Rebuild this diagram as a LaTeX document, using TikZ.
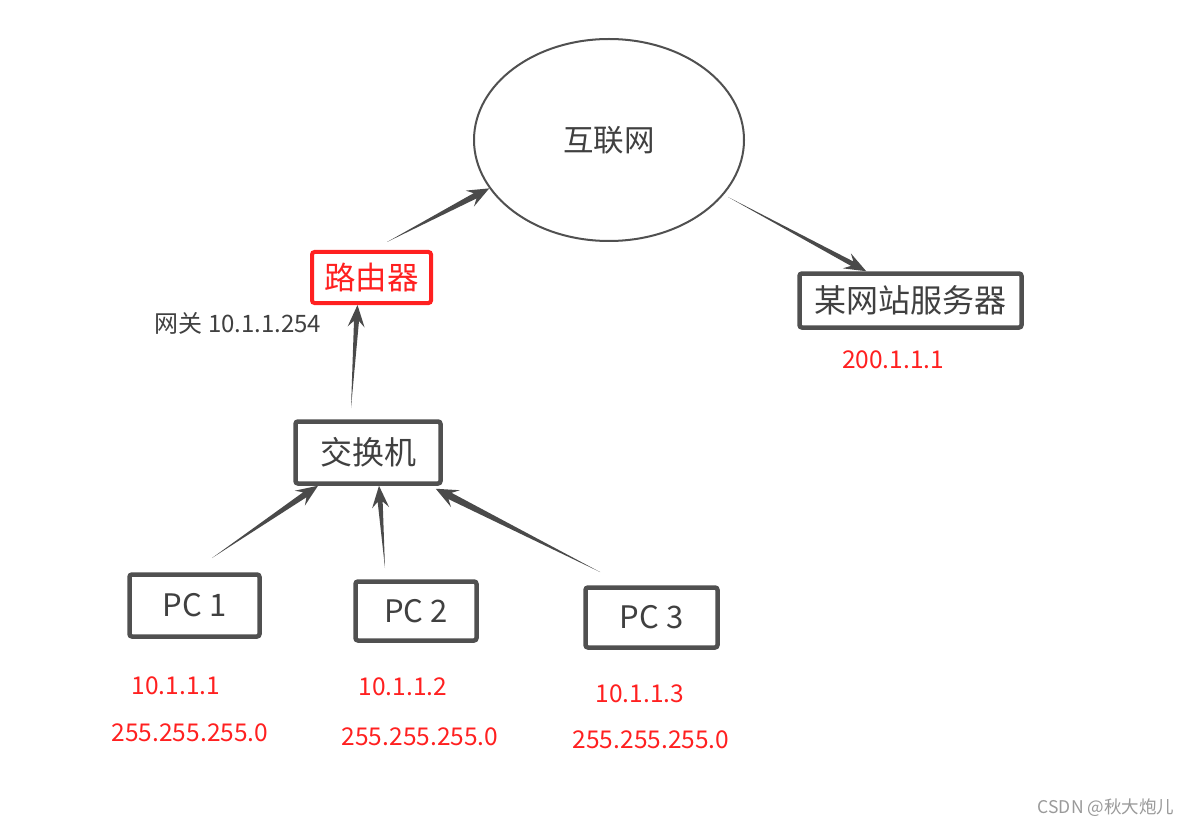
\documentclass[tikz,border=0pt]{standalone}
\usepackage{fontspec}
\setmainfont{Noto Sans CJK SC}
\usetikzlibrary{calc,shapes.geometric}
\definecolor{dg}{HTML}{505050}
\definecolor{tg}{HTML}{404040}
\definecolor{rd}{HTML}{FF2020}
\definecolor{ac}{HTML}{4A4A4A}
\definecolor{wm}{HTML}{9A9A9A}
\newcommand\taperarrow[4]{%
  \coordinate (tN) at ($(#2)!16pt!(#1)$);
  \coordinate (tB) at ($(#2)!22pt!(#1)$);
  \fill[ac] (#1) -- ($(tN)!#3!90:(#2)$) -- ($(tB)!#4!90:(#2)$) -- (#2)
    -- ($(tB)!#4!-90:(#2)$) -- ($(tN)!#3!-90:(#2)$) -- cycle;
}
\begin{document}
\begin{tikzpicture}[x=1pt,y=-1pt,
  box/.style={draw=dg,line width=4.5pt,rounded corners=2.5pt,fill=white,inner sep=0pt,text=tg,font=\fontsize{32}{34}\selectfont},
  redbox/.style={draw=rd,line width=4pt,rounded corners=2.5pt,fill=white,inner sep=0pt,text=rd,font=\fontsize{31.5}{34}\selectfont},
  pcbox/.style={box,font=\fontsize{31}{33}\selectfont},
  iplabel/.style={text=rd,font=\fontsize{24.5}{26}\selectfont,inner sep=0pt},
  graylabel/.style={text=tg,font=\fontsize{24}{26}\selectfont,inner sep=0pt}]
\useasboundingbox[fill=white] (0,0) rectangle (1189,829);

\node[ellipse,draw=dg,line width=2pt,minimum width=270pt,minimum height=202pt,inner sep=0pt,text=tg,font=\fontsize{30.5}{32}\selectfont] (net) at (609,140) {互联网};

\node[redbox,minimum width=119pt,minimum height=51pt] (rt) at (371.5,277.5) {路由器};
\node[box,minimum width=222pt,minimum height=54pt] (srv) at (910.5,300.5) {某网站服务器};
\node[box,minimum width=145pt,minimum height=62pt] (sw) at (368,452.5) {交换机};
\node[pcbox,minimum width=130pt,minimum height=62pt] (pc1) at (194.5,605.5) {PC 1};
\node[pcbox,minimum width=121pt,minimum height=59pt] (pc2) at (416,611) {PC 2};
\node[pcbox,minimum width=132pt,minimum height=60pt] (pc3) at (651.5,617.5) {PC 3};

\node[graylabel] (gw) at (238,323) {网关 10.1.1.254};
\node[iplabel] (ipsrv) at (893,360) {200.1.1.1};
\node[iplabel] (ip1) at (176,686) {10.1.1.1};
\node[iplabel] (m1) at (190,733) {255.255.255.0};
\node[iplabel] (ip2) at (403,687) {10.1.1.2};
\node[iplabel] (m2) at (420,737) {255.255.255.0};
\node[iplabel] (ip3) at (640,694) {10.1.1.3};
\node[iplabel] (m3) at (651,740) {255.255.255.0};
\node[text=wm,font=\fontsize{17.5}{19}\selectfont,inner sep=0pt] (wmk) at (1106,808) {CSDN @秋大炮儿};

% connector ends
\coordinate (s1) at (387,242);
\coordinate (t1) at (net.202);
\coordinate (s2) at (728,197);
\coordinate (t2) at ($(srv.north west)+(69,0)$);
\coordinate (s3) at (351,408);
\coordinate (t3) at ($(rt.south)+(-14,0)$);
\coordinate (s4) at (212,558);
\coordinate (t4) at ($(sw.south)+(-50,0)$);
\coordinate (s5) at (385,568);
\coordinate (t5) at ($(sw.south)+(11,0)$);
\coordinate (s6) at (600,572);
\coordinate (t6) at ($(sw.south east)+(-7,3)$);

\taperarrow{s1}{t1}{3pt}{9pt}
\taperarrow{s2}{t2}{2.5pt}{8.5pt}
\taperarrow{s3}{t3}{2.5pt}{8.5pt}
\taperarrow{s4}{t4}{3pt}{9pt}
\taperarrow{s5}{t5}{2.5pt}{8.5pt}
\taperarrow{s6}{t6}{3.5pt}{9.5pt}
\end{tikzpicture}
\end{document}
